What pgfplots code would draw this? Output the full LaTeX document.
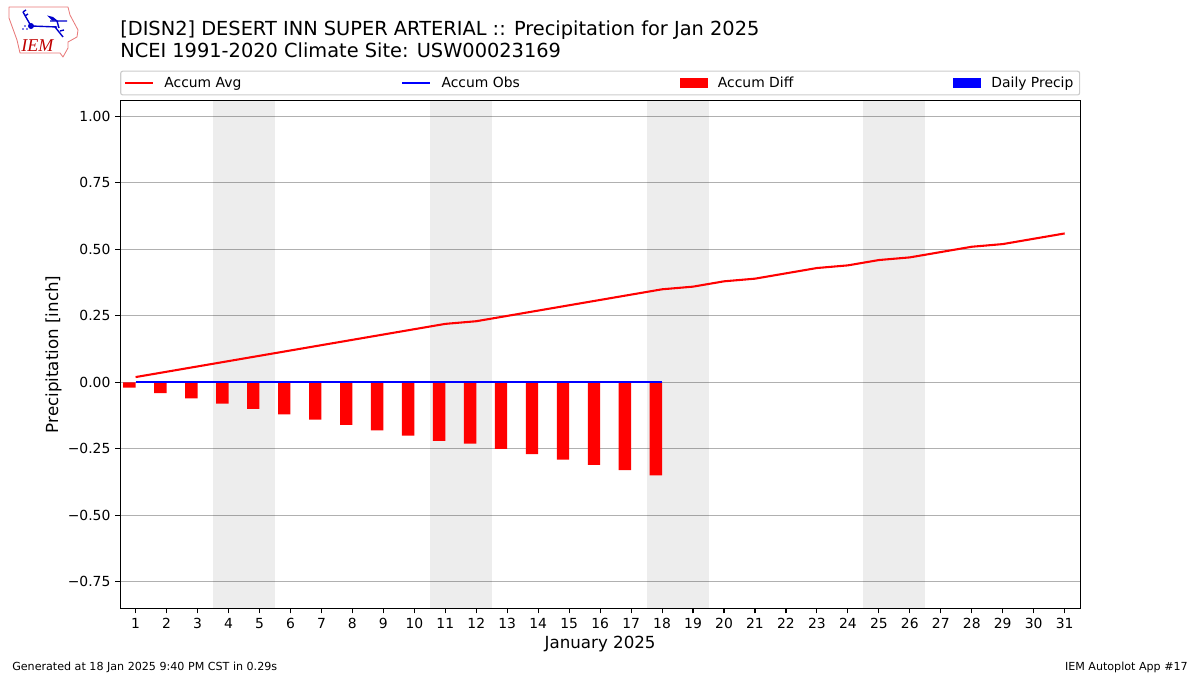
\documentclass[border=0pt]{standalone}
\usepackage{fontspec}
\setmainfont{DejaVu Sans}
\usepackage{pgfplots}
\pgfplotsset{compat=1.18}
\definecolor{gridgray}{HTML}{B0B0B0}
\definecolor{legframe}{HTML}{CCCCCC}
\definecolor{logored}{HTML}{E87878}
\pgfplotsset{
  lineimg/.style={legend image code/.code={\draw[##1,line width=1.5pt,sharp corners] (0pt,0pt) -- (20pt,0pt);}},
  boximg/.style={legend image code/.code={\fill[##1,draw=none,sharp corners] (0pt,-3.5pt) rectangle (20pt,3.5pt);}},
}
\pgfplotstableread{
day avg obs diff precip
1 0.02 0 -0.02 0
2 0.04 0 -0.04 0
3 0.06 0 -0.06 0
4 0.08 0 -0.08 0
5 0.10 0 -0.10 0
6 0.12 0 -0.12 0
7 0.14 0 -0.14 0
8 0.16 0 -0.16 0
9 0.18 0 -0.18 0
10 0.20 0 -0.20 0
11 0.22 0 -0.22 0
12 0.23 0 -0.23 0
13 0.25 0 -0.25 0
14 0.27 0 -0.27 0
15 0.29 0 -0.29 0
16 0.31 0 -0.31 0
17 0.33 0 -0.33 0
18 0.35 0 -0.35 0
}\observed
\begin{document}
\begin{tikzpicture}
\path[use as bounding box] (0pt,0pt) rectangle (864pt,486pt);
\begin{axis}[
  at={(86.5pt,47.9pt)}, anchor=south west,
  scale only axis, width=691.2pt, height=365.76pt,
  xmin=0.5, xmax=31.5, ymin=-0.85, ymax=1.06,
  xtick={1,...,31},
  ytick={-0.75,-0.5,-0.25,0,0.25,0.5,0.75,1},
  yticklabels={−0.75,−0.50,−0.25,0.00,0.25,0.50,0.75,1.00},
  /pgf/number format/assume math mode=true,
  tick label style={font=\fontsize{10}{12}\selectfont},
  tick align=outside, tick pos=left, major tick length=3.5pt,
  every tick/.style={black,line width=0.8pt},
  axis line style={line width=0.8pt},
  ymajorgrids, grid style={gridgray,line width=0.8pt},
  xlabel={January 2025}, ylabel={Precipitation [inch]},
  label style={font=\fontsize{12}{14}\selectfont},
  xlabel style={at={(axis description cs:0.5,-0.0709)},anchor=center},
  ylabel style={at={(axis description cs:-0.0695,0.5)},anchor=center},
  clip=true,
  legend columns=4,
  legend style={
    at={(axis description cs:0,1.0098)}, anchor=south west,
    draw=legframe, rounded corners=1.5pt, line width=0.8pt,
    inner xsep=2.5pt, inner ysep=2pt,
    font=\fontsize{10}{12}\selectfont,
    /tikz/every even column/.append style={column sep=113.2pt},
    /tikz/every odd column/.append style={column sep=5.44pt},
  },
  legend cell align=left,
]
\addplot[fill=black,fill opacity=0.07,draw=none,forget plot] coordinates {(3.5,-0.85)(3.5,1.06)(5.5,1.06)(5.5,-0.85)} --cycle;
\addplot[fill=black,fill opacity=0.07,draw=none,forget plot] coordinates {(10.5,-0.85)(10.5,1.06)(12.5,1.06)(12.5,-0.85)} --cycle;
\addplot[fill=black,fill opacity=0.07,draw=none,forget plot] coordinates {(17.5,-0.85)(17.5,1.06)(19.5,1.06)(19.5,-0.85)} --cycle;
\addplot[fill=black,fill opacity=0.07,draw=none,forget plot] coordinates {(24.5,-0.85)(24.5,1.06)(26.5,1.06)(26.5,-0.85)} --cycle;
\addplot[ybar,bar width=0.4,bar shift=-0.2,fill=blue,draw=none,forget plot] table[x=day,y=precip] {\observed};
\addplot[ybar,bar width=0.4,bar shift=-0.2,fill=red,draw=none,forget plot] table[x=day,y=diff] {\observed};
\addplot[red,line width=1.5pt,lineimg] coordinates {
(1,0.02)(2,0.04)(3,0.06)(4,0.08)(5,0.10)(6,0.12)(7,0.14)(8,0.16)(9,0.18)(10,0.20)
(11,0.22)(12,0.23)(13,0.25)(14,0.27)(15,0.29)(16,0.31)(17,0.33)(18,0.35)(19,0.36)(20,0.38)
(21,0.39)(22,0.41)(23,0.43)(24,0.44)(25,0.46)(26,0.47)(27,0.49)(28,0.51)(29,0.52)(30,0.54)(31,0.56)};
\addplot[blue,line width=1.5pt,lineimg] table[x=day,y=obs] {\observed};
\addlegendimage{boximg,red}
\addlegendimage{boximg,blue}
\legend{Accum Avg,Accum Obs,Accum Diff,Daily Precip}
\end{axis}
\begin{scope}[x=0.72pt,y=-0.72pt,shift={(0pt,486pt)}]
\node[anchor=base west,inner sep=0pt,font=\fontsize{13.95}{16}\selectfont] at (120,35.7) {[DISN2] DESERT INN SUPER ARTERIAL :: Precipitation for Jan 2025};
\node[anchor=base west,inner sep=0pt,font=\fontsize{13.95}{16}\selectfont] at (120,57.7) {NCEI 1991-2020 Climate Site: USW00023169};
\node[anchor=base west,inner sep=0pt,font=\fontsize{8}{10}\selectfont] at (12,671) {Generated at 18 Jan 2025 9:40 PM CST in 0.29s};
\node[anchor=base east,inner sep=0pt,font=\fontsize{8}{10}\selectfont] at (1188,671) {IEM Autoplot App \#17};
% logo
\draw[logored,line width=0.6pt,line join=round] (9,7)--(68,7)--(70,15)--(78,30)--(77,37)--(68,42)--(68,48)--(63,57)--(60,53)--(20,53)--(17,40)--(9,18)--cycle;
\draw[blue!80!black,line width=1pt] (31,26)--(57,27) (50,21)--(67,21) (57,21)--(59,28) (31,26)--(23,12) (23,12)--(26,10) (25,16)--(28,14) (55,27)--(63,37) (60,31)--(64,30);
\fill[blue!80!black] (31,26) circle (3);
\fill[blue!80!black] (47,15.5)--(53,17)--(58,21)--(52,20.5)--cycle;
\fill[blue!80!black] (23,29) circle (0.8) (25,26) circle (0.8) (27,29) circle (0.8);
\node[anchor=base west,inner sep=0pt,text=red!75!black,font=\fontsize{13}{16}\selectfont\fontspec{Liberation Serif}\itshape] at (21,52) {IEM};
\end{scope}
\end{tikzpicture}
\end{document}
